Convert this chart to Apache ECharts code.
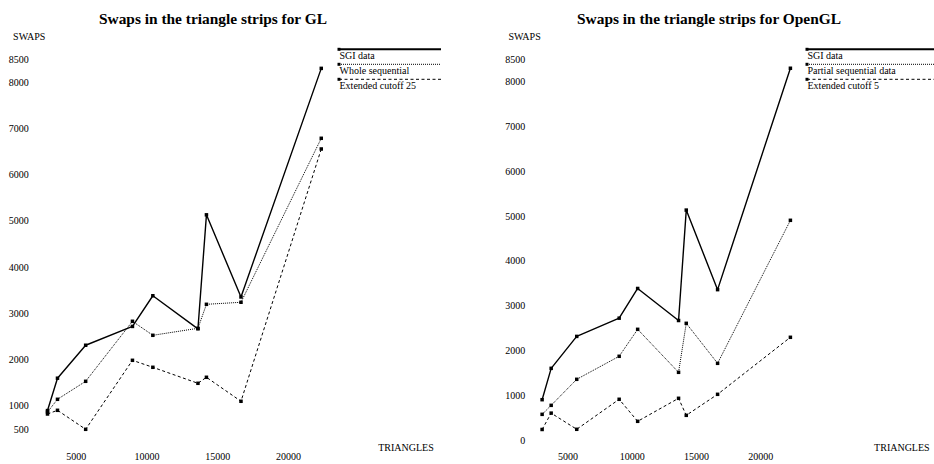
<!DOCTYPE html>
<html>
<head>
<meta charset="utf-8">
<script src="https://cdn.jsdelivr.net/npm/echarts@6/dist/echarts.min.js"></script>
<style>
html,body{margin:0;padding:0;background:#fff;}
#chart{width:934px;height:464px;}
</style>
</head>
<body>
<div id="chart"></div>
<script>
// ---- data ----
const triangles = [2975, 3680, 5670, 8975, 10415, 13600, 14200, 16640, 22310];
const sgiData = [900, 1600, 2313, 2720, 3383, 2668, 5133, 3357, 8300];
const glWholeSequential = [870, 1144, 1533, 2831, 2528, 2679, 3198, 3242, 6788];
const glExtendedCutoff25 = [826, 906, 495, 1987, 1836, 1490, 1620, 1101, 6557];
const oglPartialSequential = [573, 774, 1355, 1869, 2471, 1511, 2605, 1712, 4905];
const oglExtendedCutoff5 = [235, 600, 239, 909, 417, 931, 551, 1020, 2293];

const titles = ['Swaps in the triangle strips for GL', 'Swaps in the triangle strips for OpenGL'];
const glNames = ['SGI data', 'Whole sequential', 'Extended cutoff 25'];
const oglNames = ['SGI data', 'Partial sequential data', 'Extended cutoff 5'];
const xTicks = [5000, 10000, 15000, 20000];
const glYTicks = [500, 1000, 2000, 3000, 4000, 5000, 6000, 7000, 8000, 8500];
const oglYTicks = [0, 1000, 2000, 3000, 4000, 5000, 6000, 7000, 8000, 8500];

// ---- styling ----
const FONT = '"Liberation Serif", "Times New Roman", serif';
const styles = [
  {width: 1.4, type: 'solid'},
  {width: 1, type: [1, 1]},
  {width: 1, type: [3, 2.5]}
];
const legendStyles = [
  {lineWidth: 2, lineDash: null},
  {lineWidth: 1, lineDash: [1, 1]},
  {lineWidth: 1, lineDash: [3, 2.5]}
];

function pairs(vals) { return triangles.map((t, i) => [t, vals[i]]); }
const plain = v => String(v);

function makeSeries(names, arrays, idx) {
  return arrays.map((arr, k) => ({
    name: names[k] + (idx ? ' ' : ''),
    type: 'line',
    xAxisIndex: idx, yAxisIndex: idx,
    data: pairs(arr),
    symbol: 'rect', symbolSize: 3.5,
    showSymbol: true,
    itemStyle: {color: '#000'},
    lineStyle: {color: '#000', width: styles[k].width, type: styles[k].type},
    emphasis: {disabled: true},
    z: 3 - k
  }));
}

function makeLegend(names, x0, x1, y0) {
  const children = [];
  names.forEach((n, k) => {
    const y = y0 + k * 15;
    children.push({type: 'line', shape: {x1: x0, y1: y, x2: x1, y2: y},
      style: {stroke: '#000', lineWidth: legendStyles[k].lineWidth, lineDash: legendStyles[k].lineDash}});
    children.push({type: 'rect', shape: {x: x0 - 1.5, y: y - 1.5, width: 3, height: 3}, style: {fill: '#000'}});
    children.push({type: 'text', x: x0 + 0.5, y: y + 6,
      style: {text: n, font: '10px ' + FONT, fill: '#000', align: 'left', verticalAlign: 'middle',
              textAlign: 'left', textVerticalAlign: 'middle'}});
  });
  return {type: 'group', children: children};
}

function xAxisCfg(idx, gap, vAlign, lh, margin) {
  return {
    gridIndex: idx, type: 'value', min: 2000, max: 24000,
    name: 'TRIANGLES', nameLocation: 'end', nameGap: gap,
    nameTextStyle: {fontFamily: FONT, fontSize: 10, color: '#000', align: 'left', verticalAlign: vAlign, lineHeight: lh},
    axisLine: {show: false}, axisTick: {show: false}, splitLine: {show: false},
    axisLabel: {customValues: xTicks, formatter: plain, margin: margin, fontFamily: FONT, fontSize: 10, color: '#000'}
  };
}
function yAxisCfg(idx, ticks, pad, margin) {
  return {
    gridIndex: idx, type: 'value', min: 0, max: 9000,
    name: 'SWAPS', nameLocation: 'end', nameGap: 0,
    nameTextStyle: {fontFamily: FONT, fontSize: 10, color: '#000', align: 'center', verticalAlign: 'middle', padding: pad},
    axisLine: {show: false}, axisTick: {show: false}, splitLine: {show: false},
    axisLabel: {customValues: ticks, formatter: plain, margin: margin, fontFamily: FONT, fontSize: 10, color: '#000'}
  };
}

const chart = echarts.init(document.getElementById('chart'), null, {renderer: 'svg', width: 934, height: 464});
chart.setOption({
  animation: false,
  backgroundColor: '#fff',
  title: [
    {text: titles[0], left: 213, top: 11, textAlign: 'center', padding: 0,
     textStyle: {fontFamily: FONT, fontSize: 15.4, fontWeight: 'bold', color: '#000'}},
    {text: titles[1], left: 709, top: 11, textAlign: 'center', padding: 0,
     textStyle: {fontFamily: FONT, fontSize: 15.4, fontWeight: 'bold', color: '#000'}}
  ],
  grid: [
    {left: 33.7, top: 36.0, width: 311.5, height: 416.2, outerBoundsMode: 'none', containLabel: false},
    {left: 529.6, top: 36.9, width: 282.5, height: 403.1, outerBoundsMode: 'none', containLabel: false}
  ],
  xAxis: [xAxisCfg(0, 33, 'bottom', 10, -0.5), xAxisCfg(1, 62, 'top', 15, 11.5)],
  yAxis: [yAxisCfg(0, glYTicks, [0, 9, 0, 0], 5), yAxisCfg(1, oglYTicks, [0, 10, 0, 0], 4.3)],
  series: makeSeries(glNames, [sgiData, glWholeSequential, glExtendedCutoff25], 0)
    .concat(makeSeries(oglNames, [sgiData, oglPartialSequential, oglExtendedCutoff5], 1)),
  graphic: [makeLegend(glNames, 339, 441, 49.3), makeLegend(oglNames, 807, 934, 49.3)]
});
</script>
</body>
</html>
